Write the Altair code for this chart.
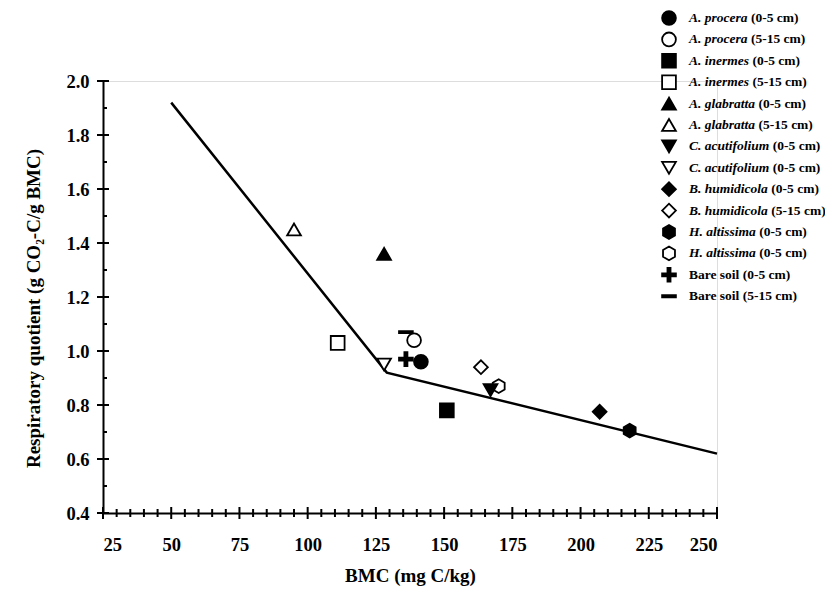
import altair as alt
import pandas as pd

# ---------------- data ----------------
species = ["A. procera", "A. procera", "A. inermes", "A. inermes",
           "A. glabratta", "A. glabratta", "C. acutifolium", "C. acutifolium",
           "B. humidicola", "B. humidicola", "H. altissima", "H. altissima",
           "", ""]
depth = ["(0-5 cm)", "(5-15 cm)", "(0-5 cm)", "(5-15 cm)",
         "(0-5 cm)", "(5-15 cm)", "(0-5 cm)", "(0-5 cm)",
         "(0-5 cm)", "(5-15 cm)", "(0-5 cm)", "(0-5 cm)",
         "Bare soil (0-5 cm)", "Bare soil (5-15 cm)"]
bmc = [141.5, 139, 151, 111, 128, 95, 167, 128, 207, 163.5, 218, 170, 136, 136]
rq = [0.96, 1.04, 0.78, 1.03, 1.36, 1.45, 0.855, 0.95, 0.775, 0.94, 0.705, 0.87, 0.97, 1.07]
filled = [True, False, True, False, True, False, True, False,
          True, False, True, False, True, True]

HEX = "M0,-1L0.866,-0.5L0.866,0.5L0,1L-0.866,0.5L-0.866,-0.5Z"
PLUS = ("M-1,-0.22L-0.22,-0.22L-0.22,-1L0.22,-1L0.22,-0.22L1,-0.22L1,0.22"
        "L0.22,0.22L0.22,1L-0.22,1L-0.22,0.22L-1,0.22Z")
DASH = "M-1,-0.15L1,-0.15L1,0.15L-1,0.15Z"
shapes = ["circle", "circle", "square", "square", "triangle-up", "triangle-up",
          "triangle-down", "triangle-down", "diamond", "diamond", HEX, HEX,
          PLUS, DASH]
sizes = [190, 190, 170, 170, 150, 150, 150, 150, 190, 190, 200, 200, 25, 121]

line_x = [50, 129, 250]
line_y = [1.92, 0.92, 0.62]

x_major = [25, 50, 75, 100, 125, 150, 175, 200, 225, 250]
x_minor = [v for v in range(25, 251, 5) if v % 25 != 0]
y_major = [0.4, 0.6, 0.8, 1.0, 1.2, 1.4, 1.6, 1.8, 2.0]
y_minor = [0.5, 0.7, 0.9, 1.1, 1.3, 1.5, 1.7, 1.9]

FONT = "Liberation Serif"
W, H = 614, 432

ids = [f"s{i}" for i in range(len(bmc))]
colors = ["black" if f else "white" for f in filled]

pts = pd.DataFrame({"id": ids, "bmc": bmc, "rq": rq, "filled": filled})
pts = pts.sort_values("filled", kind="stable")  # open first, filled on top

xs = alt.Scale(domain=[25, 250], nice=False, zero=False)
ys = alt.Scale(domain=[0.4, 2.0], nice=False, zero=False)

shape_s = alt.Scale(domain=ids, range=shapes)
fill_s = alt.Scale(domain=ids, range=colors)
size_s = alt.Scale(domain=ids, range=sizes)

axis_x = alt.Axis(values=x_major, ticks=False, domainWidth=2, domainColor="black",
                  labelFont=FONT, labelFontWeight="bold", labelFontSize=18.5,
                  labelColor="black", labelPadding=22, grid=False,
                  title="BMC (mg C/kg)", titleFont=FONT, titleFontWeight="bold",
                  titleFontSize=19, titleColor="black", titlePadding=13)
axis_y = alt.Axis(values=y_major, ticks=False, domainWidth=2, domainColor="black",
                  labelFont=FONT, labelFontWeight="bold", labelFontSize=18.5,
                  labelColor="black", labelPadding=14, grid=False, format=".1f",
                  title="Respiratory quotient (g CO\u2082-C/g BMC)", titleFont=FONT,
                  titleFontWeight="bold", titleFontSize=19, titleColor="black",
                  titlePadding=22, titleY=227)

base_axes = alt.Chart(pd.DataFrame({"bmc": [25, 250], "rq": [0.4, 2.0]})).mark_point(
    opacity=0).encode(
    x=alt.X("bmc:Q", scale=xs, axis=axis_x),
    y=alt.Y("rq:Q", scale=ys, axis=axis_y))

line = alt.Chart(pd.DataFrame({"bmc": line_x, "rq": line_y})).mark_line(
    color="black", strokeWidth=2.5).encode(
    x=alt.X("bmc:Q", scale=xs), y=alt.Y("rq:Q", scale=ys))

points = alt.Chart(pts).mark_point(filled=False, stroke="black", strokeWidth=1.8,
                                   opacity=1).encode(
    x=alt.X("bmc:Q", scale=xs), y=alt.Y("rq:Q", scale=ys),
    shape=alt.Shape("id:N", scale=shape_s, legend=None),
    fill=alt.Fill("id:N", scale=fill_s, legend=None),
    size=alt.Size("id:N", scale=size_s, legend=None))

# axis ticks
def xticks(vals, half):
    return alt.Chart(pd.DataFrame({"v": vals})).mark_rule(
        color="black", strokeWidth=2, yOffset=-half, y2Offset=half).encode(
        x=alt.X("v:Q", scale=xs), y=alt.datum(0.4), y2=alt.datum(0.4))

def yticks(vals, left, right):
    return alt.Chart(pd.DataFrame({"v": vals})).mark_rule(
        color="black", strokeWidth=2, xOffset=-left, x2Offset=right).encode(
        y=alt.Y("v:Q", scale=ys), x=alt.datum(25), x2=alt.datum(25))

# legend (custom, so species italic + depth upright)
TNR_BI = {"A": 667, "B": 667, "C": 667, "H": 778, ".": 250, " ": 250,
          "a": 500, "b": 500, "c": 444, "d": 500, "e": 444, "f": 333, "g": 500,
          "h": 556, "i": 278, "l": 278, "m": 778, "n": 556, "o": 500, "p": 500,
          "r": 389, "s": 389, "t": 278, "u": 556}
LFS = 13.5
LX_TXT = 586
LX_SYM = LX_TXT - 20
LY0 = -63
LDY = 21.4
rows = []
for i, (sp, dp) in enumerate(zip(species, depth)):
    w = sum(TNR_BI.get(c, 500) for c in sp) * LFS / 1000.0
    gap = 3.5 if sp else 0
    rows.append({"id": ids[i], "sp": sp, "dp": dp,
                 "ly": LY0 + i * LDY, "sx": LX_SYM,
                 "tx": LX_TXT, "dx": LX_TXT + w + gap})
leg = pd.DataFrame(rows)

leg_sym = alt.Chart(leg).mark_point(filled=False, stroke="black", strokeWidth=1.8,
                                    opacity=1).encode(
    x=alt.X("sx:Q", scale=None, axis=None), y=alt.Y("ly:Q", scale=None, axis=None),
    shape=alt.Shape("id:N", scale=shape_s, legend=None),
    fill=alt.Fill("id:N", scale=fill_s, legend=None),
    size=alt.Size("id:N", scale=size_s, legend=None))

leg_sp = alt.Chart(leg).mark_text(align="left", baseline="middle", font=FONT,
                                  fontWeight="bold", fontStyle="italic",
                                  fontSize=LFS, color="black").encode(
    x=alt.X("tx:Q", scale=None, axis=None), y=alt.Y("ly:Q", scale=None, axis=None),
    text="sp:N")
leg_dp = alt.Chart(leg).mark_text(align="left", baseline="middle", font=FONT,
                                  fontWeight="bold", fontSize=LFS,
                                  color="black").encode(
    x=alt.X("dx:Q", scale=None, axis=None), y=alt.Y("ly:Q", scale=None, axis=None),
    text="dp:N")

chart = alt.layer(
    base_axes, line,
    xticks(x_major, 6), xticks(x_minor, 4),
    yticks(y_major, 6, 6), yticks(y_minor, 0, 4),
    points, leg_sym, leg_sp, leg_dp
).properties(
    width=W, height=H,
    autosize=alt.AutoSizeParams(type="none"),
    padding={"left": 95, "top": 73, "right": 108, "bottom": 77},
).configure_view(stroke=None).configure(background="white")

chart.save("out.html", embed_options={"renderer": "svg", "actions": False})
